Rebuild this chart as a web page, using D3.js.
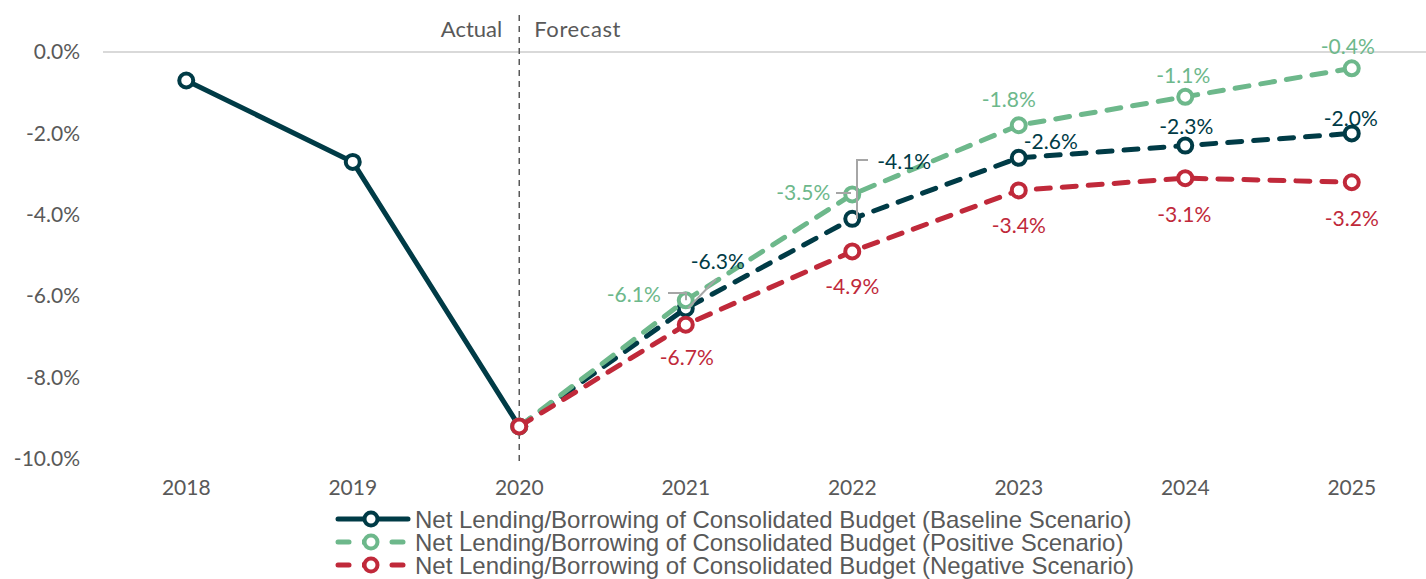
<!DOCTYPE html>
<html>
<head>
<meta charset="utf-8">
<script src="https://cdn.jsdelivr.net/npm/d3@7"></script>
<style>
  html, body { margin: 0; padding: 0; background: #fff; }
  svg { display: block; }
</style>
</head>
<body>
<svg id="chart" width="1426" height="579"></svg>
<script>
// Years on the horizontal axis
const years = ["2018", "2019", "2020", "2021", "2022", "2023", "2024", "2025"];
// Net lending/borrowing, % of GDP
const baseline = [-0.7, -2.7, -9.2, -6.3, -4.1, -2.6, -2.3, -2.0];
const positive = [null, null, -9.2, -6.1, -3.5, -1.8, -1.1, -0.4];
const negative = [null, null, -9.2, -6.7, -4.9, -3.4, -3.1, -3.2];
const yTicks = [0, -2, -4, -6, -8, -10];
const seriesNames = [
  "Net Lending/Borrowing of Consolidated Budget (Baseline Scenario)",
  "Net Lending/Borrowing of Consolidated Budget (Positive Scenario)",
  "Net Lending/Borrowing of Consolidated Budget (Negative Scenario)"
];
const lastActual = "2020";

const colors = { base: "#003B46", pos: "#6DB88B", neg: "#C0293A" };
const textGrey = "#595959";
const axisFont = "Lato, 'Open Sans', sans-serif";
const legendFont = "'Liberation Sans', Arial, sans-serif";
const fs = 21;

const svg = d3.select("#chart");

const x = d3.scaleBand().domain(years).range([103, 1435]);
const xc = d => x(d) + x.bandwidth() / 2;
const y = d3.scaleLinear().domain([-10, 0]).range([459, 52]);

// Percent with a plain hyphen for negatives
const pct = v => (v < 0 ? "-" : "") + Math.abs(v).toFixed(1) + "%";

// Zero gridline
svg.append("line")
  .attr("x1", 103).attr("x2", 1426)
  .attr("y1", y(0)).attr("y2", y(0))
  .attr("stroke", "#D9D9D9").attr("stroke-width", 2);

// Y axis labels
const yAxis = d3.axisLeft(y).tickValues(yTicks)
  .tickFormat(pct).tickSize(0).tickPadding(0);
const yg = svg.append("g").attr("transform", "translate(80,0)").call(yAxis);
yg.select(".domain").remove();
yg.selectAll("text").attr("font-family", axisFont).attr("font-size", fs)
  .attr("fill", textGrey);

// X axis labels
const xAxis = d3.axisBottom(x).tickSize(0).tickPadding(0);
const xg = svg.append("g").attr("transform", "translate(0,480)").call(xAxis);
xg.select(".domain").remove();
xg.selectAll("text").attr("font-family", axisFont).attr("font-size", fs)
  .attr("fill", textGrey);

// Actual / Forecast divider
const divX = xc(lastActual);
svg.append("line")
  .attr("x1", divX).attr("x2", divX).attr("y1", 15).attr("y2", 461)
  .attr("stroke", "#595959").attr("stroke-width", 1.5)
  .attr("stroke-dasharray", "6,5");
svg.append("text").attr("x", divX - 17).attr("y", 37).attr("text-anchor", "end")
  .attr("font-family", axisFont).attr("font-size", fs + 1).attr("fill", textGrey)
  .text("Actual");
svg.append("text").attr("x", divX + 15).attr("y", 37)
  .attr("font-family", axisFont).attr("font-size", fs + 1).attr("fill", textGrey)
  .attr("letter-spacing", 0.6)
  .text("Forecast");

const line = d3.line()
  .defined(d => d.v !== null)
  .x(d => xc(d.year)).y(d => y(d.v));

const toPts = arr => years.map((yr, i) => ({ year: yr, v: arr[i] }));
const cut = years.indexOf(lastActual);

const dash = "14,12";

function drawSeries(arr, color, splitActual) {
  const pts = toPts(arr);
  const g = svg.append("g");
  if (splitActual) {
    g.append("path").datum(pts.slice(0, cut + 1)).attr("d", line)
      .attr("fill", "none").attr("stroke", color).attr("stroke-width", 5)
      .attr("stroke-linejoin", "round");
  }
  g.append("path").datum(pts.slice(cut)).attr("d", line)
    .attr("fill", "none").attr("stroke", color).attr("stroke-width", 5)
    .attr("stroke-dasharray", dash).attr("stroke-linecap", "round");
  g.selectAll("circle").data(pts.filter(d => d.v !== null)).join("circle")
    .attr("cx", d => xc(d.year)).attr("cy", d => y(d.v)).attr("r", 7)
    .attr("fill", "#fff").attr("stroke", color).attr("stroke-width", 4);
}

drawSeries(baseline, colors.base, true);
drawSeries(positive, colors.pos, false);
drawSeries(negative, colors.neg, false);

// Leader lines for crowded labels
const leaderColor = "#A6A6A6";
const leaders = [
  [[668, 293], [686, 293], [686, y(-6.1)]],
  [[716, 279], [688, y(-6.3)]],
  [[868, 160], [857, 160], [857, y(-4.1)]],
  [[836, 193], [851, 193]]
];
leaders.forEach(pts => {
  svg.append("path").attr("d", d3.line()(pts)).attr("fill", "none")
    .attr("stroke", leaderColor).attr("stroke-width", 2);
});

// Data labels: [series values, color, index, dx, dy, anchor]
const labels = [
  [baseline, colors.base, 3, 32, -47, "middle"],
  [baseline, colors.base, 4, 25, -57, "start"],
  [baseline, colors.base, 5, 32, -16, "middle"],
  [baseline, colors.base, 6, 1, -19, "middle"],
  [baseline, colors.base, 7, -1, -15, "middle"],
  [positive, colors.pos, 3, -52, -6, "middle"],
  [positive, colors.pos, 4, -49, -2, "middle"],
  [positive, colors.pos, 5, -10, -26, "middle"],
  [positive, colors.pos, 6, -2, -21, "middle"],
  [positive, colors.pos, 7, -4, -22, "middle"],
  [negative, colors.neg, 3, 1, 33, "middle"],
  [negative, colors.neg, 4, 0, 35, "middle"],
  [negative, colors.neg, 5, 0, 35, "middle"],
  [negative, colors.neg, 6, -1, 36, "middle"],
  [negative, colors.neg, 7, 0, 36, "middle"]
];
labels.forEach(([arr, color, i, dx, dy, anchor]) => {
  svg.append("text")
    .attr("x", xc(years[i]) + dx).attr("y", y(arr[i]) + dy)
    .attr("dy", "0.35em").attr("text-anchor", anchor)
    .attr("font-family", axisFont).attr("font-size", fs).attr("fill", color)
    .text(pct(arr[i]));
});

// Legend
const legend = svg.append("g");
const legendItems = [
  { name: seriesNames[0], color: colors.base, dashed: false },
  { name: seriesNames[1], color: colors.pos, dashed: true },
  { name: seriesNames[2], color: colors.neg, dashed: true }
];
legendItems.forEach((item, i) => {
  const ly = 519 + i * 23;
  const g = legend.append("g");
  if (item.dashed) {
    [[338, 349], [392, 403]].forEach(([a, b]) => {
      g.append("line").attr("x1", a).attr("x2", b).attr("y1", ly).attr("y2", ly)
        .attr("stroke", item.color).attr("stroke-width", 5).attr("stroke-linecap", "round");
    });
    g.append("line").attr("x1", 362).attr("x2", 378).attr("y1", ly).attr("y2", ly)
      .attr("stroke", item.color).attr("stroke-width", 5);
  } else {
    g.append("line").attr("x1", 338).attr("x2", 408).attr("y1", ly).attr("y2", ly)
      .attr("stroke", item.color).attr("stroke-width", 5).attr("stroke-linecap", "round");
  }
  g.append("circle").attr("cx", 371).attr("cy", ly).attr("r", 6.5)
    .attr("fill", "#fff").attr("stroke", item.color).attr("stroke-width", 4);
  g.append("text").attr("x", 415).attr("y", ly).attr("dy", "0.36em")
    .attr("font-family", legendFont).attr("font-size", 24).attr("fill", textGrey)
    .text(item.name);
});
</script>
</body>
</html>
